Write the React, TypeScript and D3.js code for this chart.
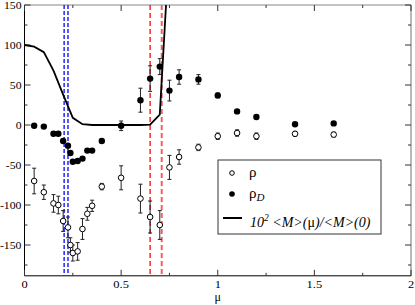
import React from "react";
import * as d3 from "d3";

const W = 415;
const H = 305;

// mu values shared by both measured series
const muPts = [0.05, 0.1, 0.15, 0.175, 0.2, 0.225, 0.2375, 0.25, 0.275, 0.3, 0.325, 0.35, 0.4, 0.5, 0.6, 0.65, 0.7, 0.75, 0.8, 0.9, 1.0, 1.1, 1.2, 1.4, 1.6];
const rho = [-70, -84, -98, -100, -120, -128, -150, -160, -158, -130, -111, -101, -77, -66, -92, -115, -125, -53, -40, -28, -14, -10, -14, -11, -12];
const rhoErr = [16, 9, 11, 11, 13, 13, 9, 10, 11, 13, 8, 7, 4, 15, 18, 20, 18, 15, 9, 4, 4, 4, 4, 3, 3];
const rhoD = [-1, -2, -11, -11, -20, -26, -35, -46, -45, -42, -32, -32, -20, -1, 31, 58, 73, 43, 60, 57, 37, 17, 10, 1, 2];
const rhoDErr = [1, 1, 1, 1, 1, 1, 1, 1, 1, 1, 1, 1, 1, 6, 15, 16, 10, 13, 9, 6, 3, 2, 1, 1, 1];

// 10^2 <M>(mu)/<M>(0)
const muLine = [0, 0.05, 0.1, 0.15, 0.2, 0.25, 0.3, 0.35, 0.4, 0.5, 0.6, 0.65, 0.7, 0.75];
const mLine = [100, 98, 91, 68, 38, 9, 1, 0, 0, 0, 0, 0.5, 13, 225];

const blueMu = [0.205, 0.225];
const redMu = [0.65, 0.71];

const xTicks = [0, 0.5, 1, 1.5, 2];
const xMinor = [0.25, 0.75, 1.25, 1.75];
const yTicks = [150, 100, 50, 0, -50, -100, -150];
const yMinor = [125, 75, 25, -25, -75, -125, -175];

const FONT = "'Liberation Serif', 'DejaVu Serif', serif";

export default function App() {
  const x = d3.scaleLinear().domain([0, 2]).range([24.5, 411]);
  const y = d3.scaleLinear().domain([-188.5, 150]).range([275.8, 5]);
  const [x0, x1] = x.range();
  const [yb, yt] = y.range();

  const line = d3
    .line<number>()
    .x((_, i) => x(muLine[i]))
    .y((d) => y(d));

  const errBar = (mu: number, v: number, e: number, k: string) => {
    const cx = x(mu);
    return (
      <g key={k} stroke="#222" strokeWidth={1}>
        <line x1={cx} x2={cx} y1={y(v - e)} y2={y(v + e)} />
        <line x1={cx - 2} x2={cx + 2} y1={y(v - e)} y2={y(v - e)} />
        <line x1={cx - 2} x2={cx + 2} y1={y(v + e)} y2={y(v + e)} />
      </g>
    );
  };

  return (
    <svg width={W} height={H} style={{ position: "absolute", left: 0, top: 0 }}>
      <rect width={W} height={H} fill="#fff" />
      <defs>
        <clipPath id="plot">
          <rect x={x0} y={yt} width={x1 - x0} height={yb - yt} />
        </clipPath>
      </defs>

      {/* frame */}
      <line x1={x0} x2={x1} y1={yt} y2={yt} stroke="#888" strokeWidth={1.2} />
      <line x1={x1} x2={x1} y1={yt} y2={yb} stroke="#888" strokeWidth={1.2} />
      <line x1={x0} x2={x1} y1={yb} y2={yb} stroke="#000" />
      <line x1={x0} x2={x0} y1={yt} y2={yb} stroke="#000" />

      {/* ticks */}
      {xTicks.map((t) => (
        <g key={"xt" + t} stroke="#333">
          <line x1={x(t)} x2={x(t)} y1={yb} y2={yb - 6} />
          <line x1={x(t)} x2={x(t)} y1={yt} y2={yt + 6} />
        </g>
      ))}
      {xMinor.map((t) => (
        <g key={"xm" + t} stroke="#333">
          <line x1={x(t)} x2={x(t)} y1={yb} y2={yb - 3} />
          <line x1={x(t)} x2={x(t)} y1={yt} y2={yt + 3} />
        </g>
      ))}
      {yTicks.map((t) => (
        <g key={"yt" + t} stroke="#333">
          <line x1={x0} x2={x0 + 6} y1={y(t)} y2={y(t)} />
          <line x1={x1} x2={x1 - 6} y1={y(t)} y2={y(t)} />
        </g>
      ))}
      {yMinor.map((t) => (
        <g key={"ym" + t} stroke="#333">
          <line x1={x0} x2={x0 + 3} y1={y(t)} y2={y(t)} />
          <line x1={x1} x2={x1 - 3} y1={y(t)} y2={y(t)} />
        </g>
      ))}

      {/* tick labels */}
      {xTicks.map((t) => (
        <text
          key={"xl" + t}
          transform={`translate(${x(t)},${yb + 12}) scale(1.25,1)`}
          textAnchor="middle"
          fontFamily={FONT}
          fontSize={10}
        >
          {String(t)}
        </text>
      ))}
      {yTicks.map((t) => (
        <text
          key={"yl" + t}
          transform={`translate(${x0 - 3},${y(t) + 3.5}) scale(1.2,1)`}
          textAnchor="end"
          fontFamily={FONT}
          fontSize={9.8}
        >
          {t < 0 ? "-" + Math.abs(t) : String(t)}
        </text>
      ))}
      <text x={x(1)} y={301} textAnchor="middle" fontFamily={FONT} fontSize={12}>
        μ
      </text>

      <g clipPath="url(#plot)">
        {blueMu.map((m) => (
          <line key={"b" + m} x1={x(m)} x2={x(m)} y1={yt} y2={yb} stroke="#0000ff" strokeWidth={1.3} strokeDasharray="4,2" />
        ))}
        {redMu.map((m, i) => (
          <line key={"r" + m} x1={x(m)} x2={x(m)} y1={yt} y2={yb} stroke={i === 0 ? "#ff0000" : "#f06060"} strokeWidth={i === 0 ? 1.3 : 2} strokeDasharray="5,3" />
        ))}

        <path d={line(mLine) || ""} fill="none" stroke="#000" strokeWidth={1.8} />

        {muPts.map((m, i) => errBar(m, rho[i], rhoErr[i], "re" + i))}
        {muPts.map((m, i) => (
          <circle key={"rc" + i} cx={x(m)} cy={y(rho[i])} r={2.8} fill="#fff" stroke="#000" strokeWidth={1} />
        ))}
        {muPts.map((m, i) => errBar(m, rhoD[i], rhoDErr[i], "de" + i))}
        {muPts.map((m, i) => (
          <circle key={"dc" + i} cx={x(m)} cy={y(rhoD[i])} r={3.2} fill="#000" />
        ))}
      </g>

      {/* legend */}
      <g fontFamily={FONT}>
        <rect x={218} y={160} width={163} height={74} fill="#fff" stroke="#333" strokeWidth={1} />
        <circle cx={232} cy={173} r={2.3} fill="#fff" stroke="#000" />
        <text x={249} y={177} fontSize={15}>ρ</text>
        <circle cx={232} cy={194} r={2.8} fill="#000" />
        <text x={249} y={198} fontSize={15}>
          ρ<tspan fontStyle="italic" fontSize={11} dy={3}>D</tspan>
        </text>
        <line x1={223} x2={242} y1={218} y2={218} stroke="#000" strokeWidth={2} />
        <text x={250} y={227} fontSize={14} fontStyle="italic">
          10<tspan fontSize={9.5} dy={-6}>2</tspan>
          <tspan dy={6}> &lt;M&gt;(</tspan>
          <tspan fontStyle="normal">μ</tspan>
          <tspan>)/&lt;M&gt;(0)</tspan>
        </text>
      </g>
    </svg>
  );
}
